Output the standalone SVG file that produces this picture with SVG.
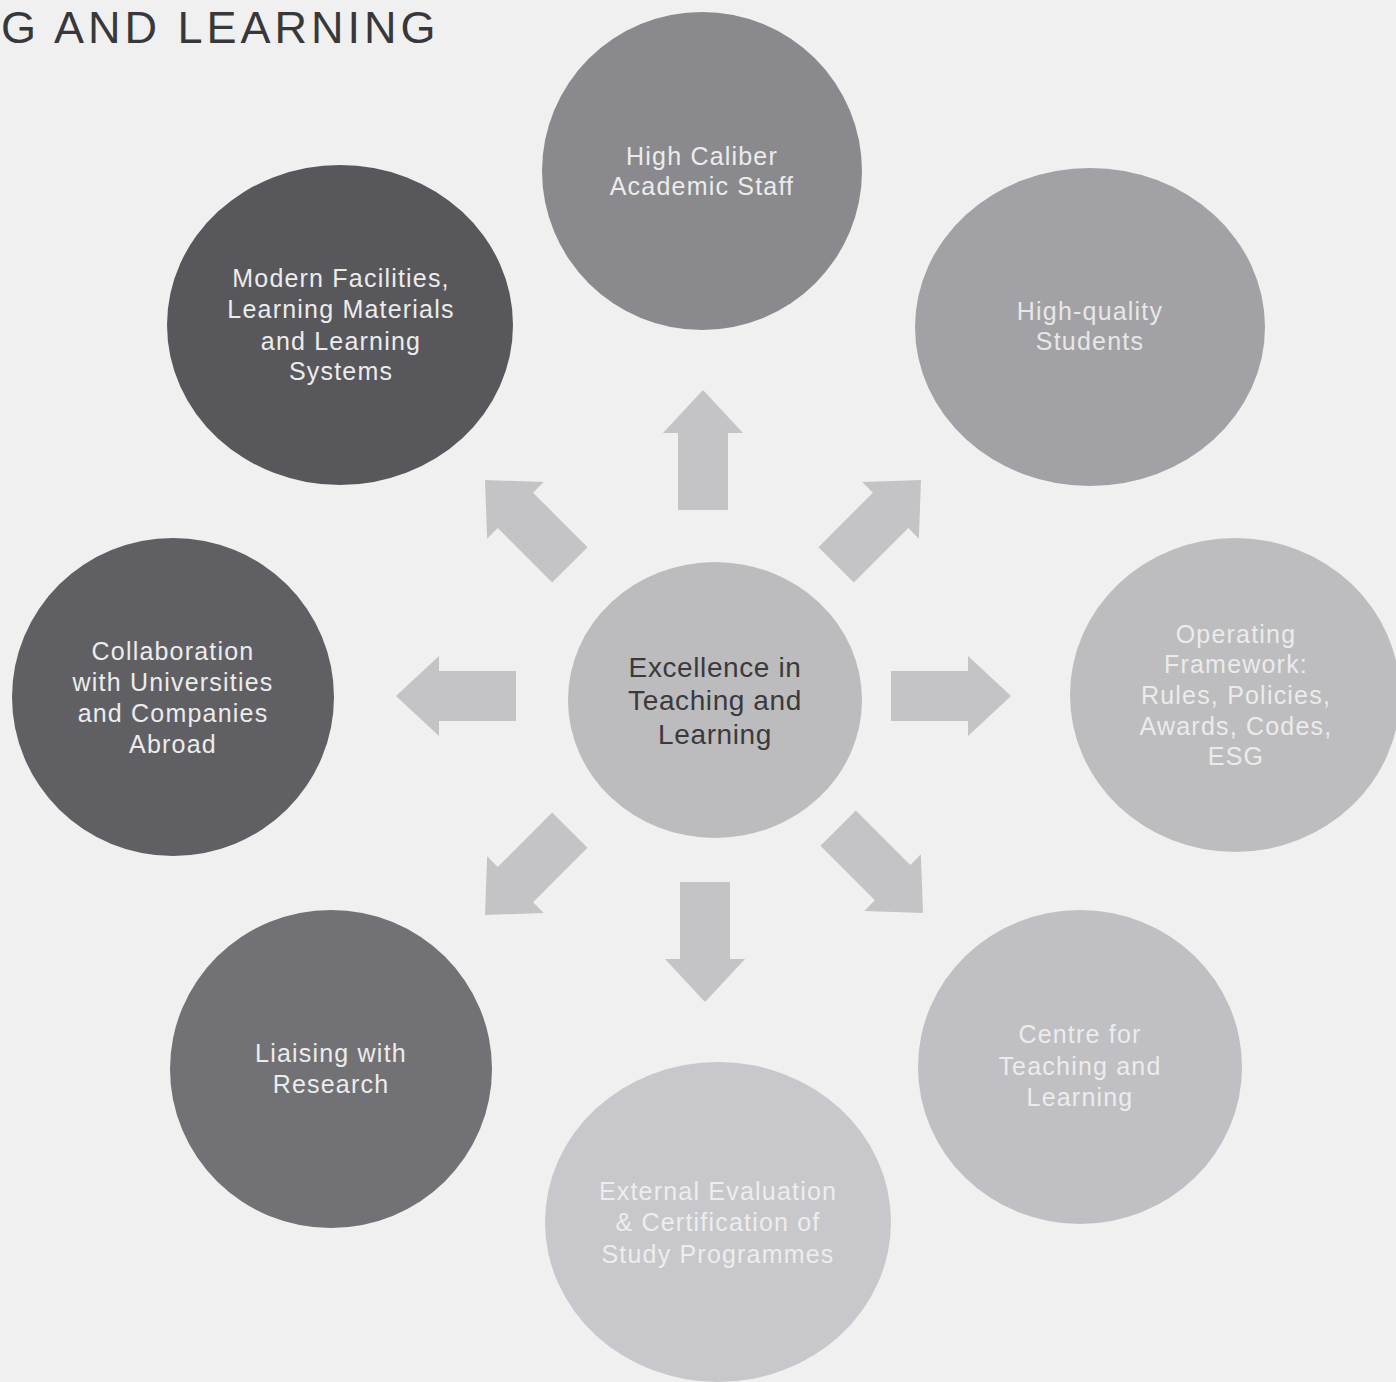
<svg xmlns="http://www.w3.org/2000/svg" width="1396" height="1382" viewBox="0 0 1396 1382">
<style>
.lbl{font-family:"Liberation Sans","Noto Sans",sans-serif;font-size:25px;letter-spacing:1.2px;text-anchor:middle;fill:#ececec}
.lt{fill:#f4f4f4;opacity:0.85}
.ctr{font-family:"Liberation Sans","Noto Sans",sans-serif;font-size:28px;letter-spacing:0.6px;text-anchor:middle;fill:#3a3a3c}
.arrow{fill:#c4c4c6}
.title{font-family:"Liberation Sans","Noto Sans",sans-serif;font-size:45px;letter-spacing:4px;fill:#38383a}
</style>
<defs>
<path id="arr" d="M0,0 L40,43 L25,43 L25,120 L-25,120 L-25,43 L-40,43 Z"/>
</defs>
<rect width="1396" height="1382" fill="#f0f0f0"/>
<text class="title" x="1" y="43">G AND LEARNING</text>
<g id="connectors" class="arrow">
<use href="#arr" transform="translate(703,390)"/>
<use href="#arr" transform="translate(705,1002) rotate(180)"/>
<use href="#arr" transform="translate(396,696) rotate(-90)"/>
<use href="#arr" transform="translate(1011,696) rotate(90)"/>
<use href="#arr" transform="translate(485,480) rotate(-45)"/>
<use href="#arr" transform="translate(921,480) rotate(45)"/>
<use href="#arr" transform="translate(923,913) rotate(135)"/>
<use href="#arr" transform="translate(485,915) rotate(-135)"/>
</g>
<g id="center">
<ellipse cx="715" cy="700" rx="147" ry="138" fill="#bcbcbe"/>
<text class="ctr" x="715" y="677">Excellence in</text>
<text class="ctr" x="715" y="710">Teaching and</text>
<text class="ctr" x="715" y="744">Learning</text>
</g>
<g id="staff">
<ellipse cx="702" cy="171" rx="160" ry="159" fill="#8a8a8e"/>
<text class="lbl" x="702" y="165">High Caliber</text>
<text class="lbl" x="702" y="195">Academic Staff</text>
</g>
<g id="facilities">
<ellipse cx="340" cy="325" rx="173" ry="160" fill="#58585c"/>
<text class="lbl" x="341" y="287">Modern Facilities,</text>
<text class="lbl" x="341" y="318">Learning Materials</text>
<text class="lbl" x="341" y="350">and Learning</text>
<text class="lbl" x="341" y="380">Systems</text>
</g>
<g id="students">
<ellipse cx="1090" cy="327" rx="175" ry="159" fill="#a2a2a6"/>
<text class="lbl lt" x="1090" y="320">High-quality</text>
<text class="lbl lt" x="1090" y="350">Students</text>
</g>
<g id="collaboration">
<ellipse cx="173" cy="697" rx="161" ry="159" fill="#606064"/>
<text class="lbl" x="173" y="660">Collaboration</text>
<text class="lbl" x="173" y="691">with Universities</text>
<text class="lbl" x="173" y="722">and Companies</text>
<text class="lbl" x="173" y="753">Abroad</text>
</g>
<g id="framework">
<ellipse cx="1235" cy="695" rx="165" ry="157" fill="#bdbdc0"/>
<text class="lbl lt" x="1236" y="643">Operating</text>
<text class="lbl lt" x="1236" y="673">Framework:</text>
<text class="lbl lt" x="1236" y="704">Rules, Policies,</text>
<text class="lbl lt" x="1236" y="735">Awards, Codes,</text>
<text class="lbl lt" x="1236" y="765">ESG</text>
</g>
<g id="research">
<ellipse cx="331" cy="1069" rx="161" ry="159" fill="#727276"/>
<text class="lbl" x="331" y="1062">Liaising with</text>
<text class="lbl" x="331" y="1093">Research</text>
</g>
<g id="centre">
<ellipse cx="1080" cy="1067" rx="162" ry="157" fill="#c0c0c4"/>
<text class="lbl lt" x="1080" y="1043">Centre for</text>
<text class="lbl lt" x="1080" y="1075">Teaching and</text>
<text class="lbl lt" x="1080" y="1106">Learning</text>
</g>
<g id="evaluation">
<ellipse cx="718" cy="1222" rx="173" ry="160" fill="#c8c8cc"/>
<text class="lbl lt" x="718" y="1200">External Evaluation</text>
<text class="lbl lt" x="718" y="1231">&amp; Certification of</text>
<text class="lbl lt" x="718" y="1263">Study Programmes</text>
</g>
</svg>
